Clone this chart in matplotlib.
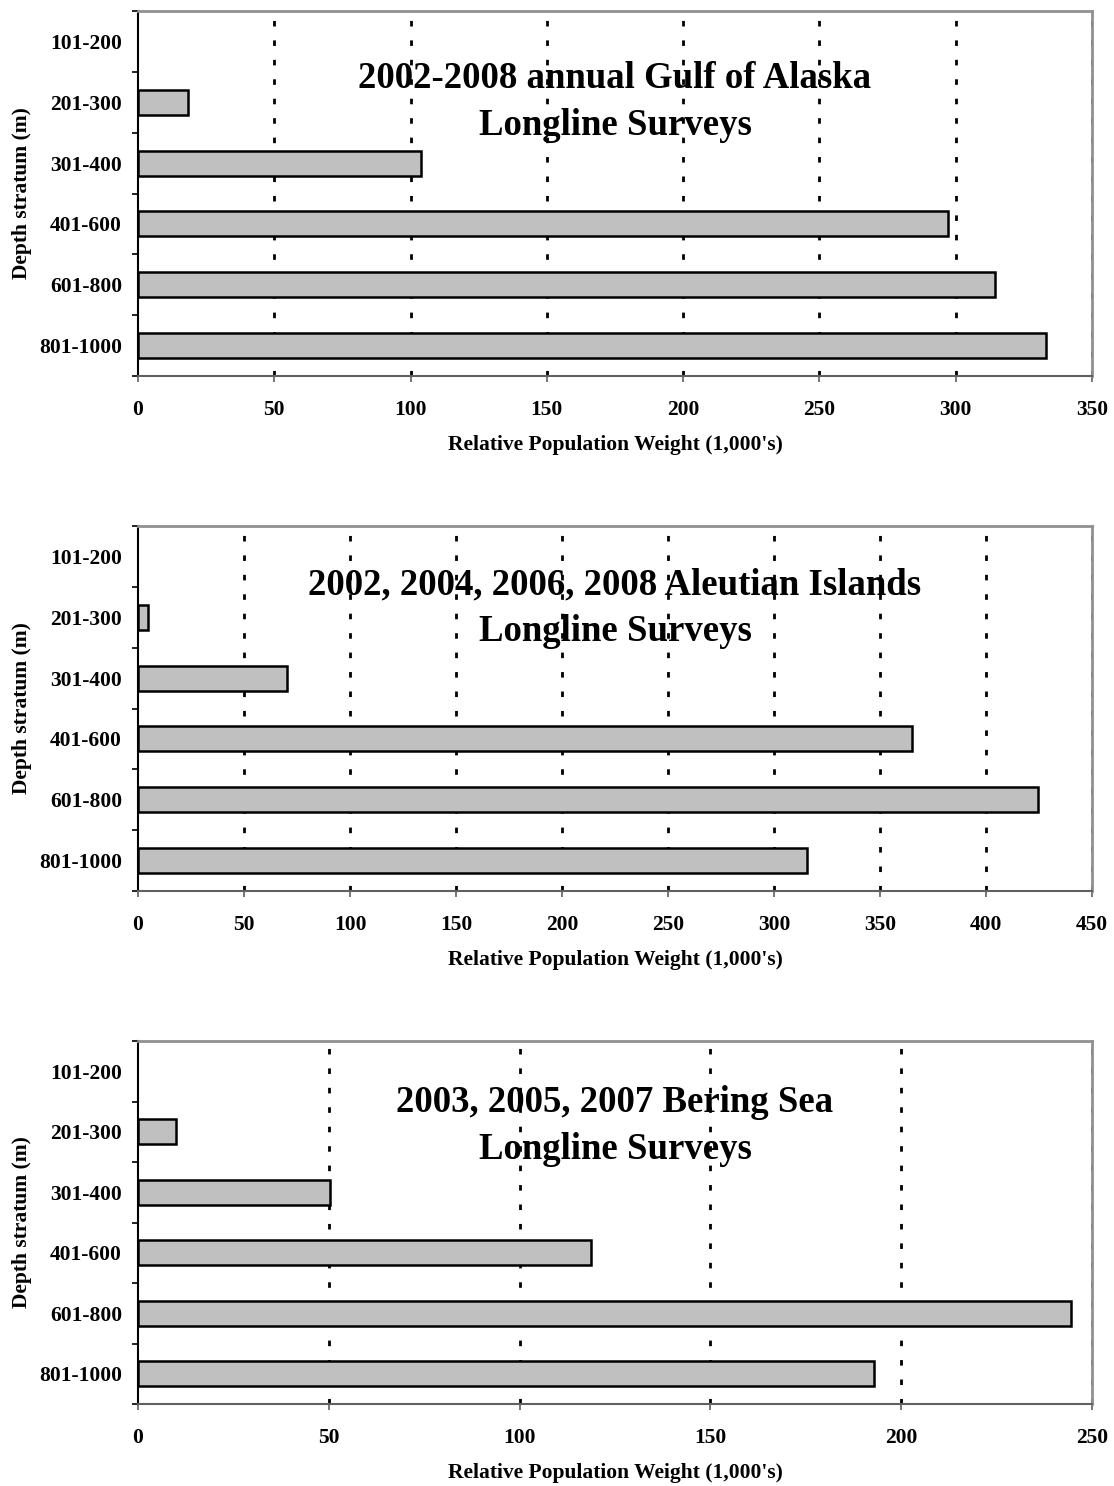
import numpy as np
import matplotlib.pyplot as plt

plt.rcParams['font.family'] = ['Liberation Serif', 'DejaVu Serif']
plt.rcParams['font.weight'] = 'bold'

depths = ['101-200', '201-300', '301-400', '401-600', '601-800', '801-1000']

gulf_values = [0, 18.5, 104, 297, 314.5, 333]
aleutian_values = [0, 4.5, 70.5, 365, 424.5, 315.5]
bering_values = [0, 10, 50.2, 118.7, 244.5, 193]

titles = ['2002-2008 annual Gulf of Alaska\nLongline Surveys',
          '2002, 2004, 2006, 2008 Aleutian Islands\nLongline Surveys',
          '2003, 2005, 2007 Bering Sea\nLongline Surveys']
x_maxes = [350, 450, 250]
title_y = [0.75, 0.775, 0.766]


def plot_panel(ax, values, title, x_max, ty):
	y = np.arange(len(depths))
	# no outline on empty strata
	edge_widths = [0 if v == 0 else 1.8 for v in values]
	ax.barh(y, values, height=0.41, color='#C0C0C0', edgecolor='black',
			linewidth=edge_widths, zorder=3)

	ticks = np.arange(0, x_max + 1, 50)
	for t in ticks[1:]:
		ax.axvline(t, color='black', linewidth=2, linestyle=(0, (2, 5)), zorder=1)

	ax.set_xlim(0, x_max)
	ax.set_ylim(len(depths) - 0.5, -0.5)
	ax.set_xticks(ticks)
	ax.set_xticklabels([str(t) for t in ticks], fontsize=15.5, fontweight='bold')
	ax.set_yticks(y)
	ax.set_yticklabels(depths, fontsize=15.5, fontweight='bold')
	ax.set_yticks(np.arange(-0.5, len(depths)), minor=True)

	ax.tick_params(axis='y', which='major', length=0, pad=11.5)
	ax.tick_params(axis='y', which='minor', length=4.5, width=1.2, direction='out')
	ax.tick_params(axis='x', which='major', length=4, width=1.2, direction='out',
				   pad=13, color='#606060')

	ax.spines['left'].set_color('black')
	ax.spines['left'].set_linewidth(1.5)
	ax.spines['bottom'].set_color('#606060')
	ax.spines['bottom'].set_linewidth(1.5)
	ax.spines['top'].set_color('#909090')
	ax.spines['top'].set_linewidth(2)
	ax.spines['right'].set_color('#909090')
	ax.spines['right'].set_linewidth(2)

	ax.set_xlabel("Relative Population Weight (1,000's)", fontsize=15.5,
				  fontweight='bold', labelpad=11)
	ax.set_ylabel('Depth stratum (m)', fontsize=15.5, fontweight='bold')
	ax.yaxis.set_label_coords(-0.111, 0.5)

	ax.text(0.5, ty, title, transform=ax.transAxes, ha='center', va='center',
			fontsize=26.5, fontweight='bold', linespacing=1.45, zorder=5)


fig = plt.figure(figsize=(11.14, 14.86), dpi=100)
left = 138 / 1114
width = (1092 - 138) / 1114
ax1 = fig.add_axes([left, 1 - 376 / 1486, width, 365 / 1486])
ax2 = fig.add_axes([left, 1 - 891 / 1486, width, 365 / 1486])
ax3 = fig.add_axes([left, 1 - 1404 / 1486, width, 363 / 1486])

all_values = [gulf_values, aleutian_values, bering_values]
for i, ax in enumerate([ax1, ax2, ax3]):
	plot_panel(ax, all_values[i], titles[i], x_maxes[i], title_y[i])

fig.savefig('out.png', dpi=100)
